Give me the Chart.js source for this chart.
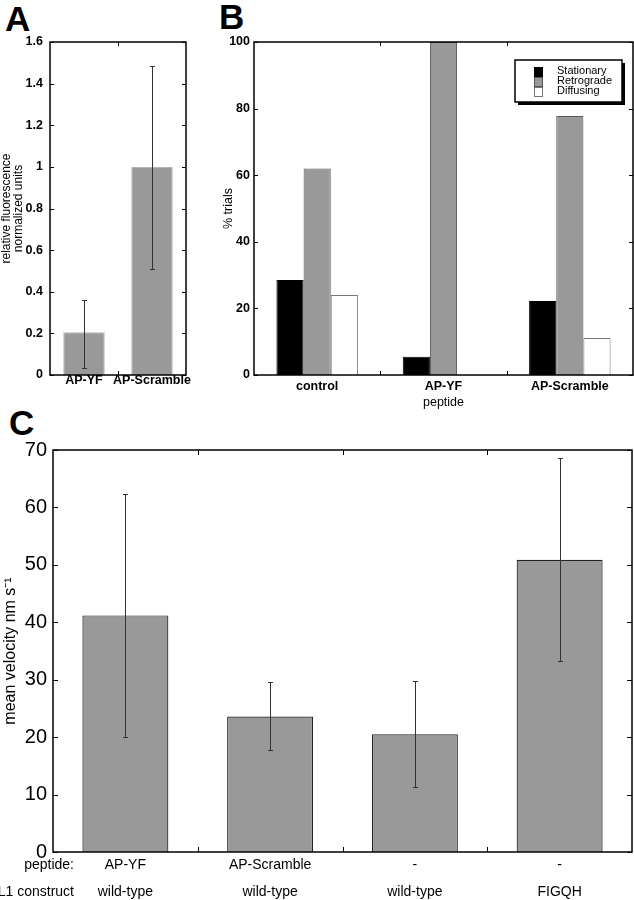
<!DOCTYPE html>
<html>
<head>
<meta charset="utf-8">
<script src="https://cdn.jsdelivr.net/npm/chart.js@4.4.1/dist/chart.umd.min.js"></script>
<style>
  body { margin: 0; background: #fff; width: 634px; height: 900px; position: relative; overflow: hidden; font-family: "Liberation Sans", Arial, sans-serif; }
  canvas { position: absolute; }
  .tag { position: absolute; font-weight: bold; font-size: 35px; line-height: 1; }
</style>
</head>
<body>
<div class="tag" style="left:5px;top:1px">A</div>
<div class="tag" style="left:219px;top:-1px">B</div>
<div class="tag" style="left:9px;top:405px">C</div>
<canvas id="chartA" width="200" height="400" style="left:0;top:0"></canvas>
<canvas id="chartB" width="434" height="410" style="left:200px;top:0"></canvas>
<canvas id="chartC" width="634" height="500" style="left:0;top:400px"></canvas>
<script>
// panel A
const groupsA = ["AP-YF", "AP-Scramble"]
const fluorA = [0.205, 1.0]
const fluorLoA = [0.035, 0.51]
const fluorHiA = [0.36, 1.485]
const yTicksA = [0, 0.2, 0.4, 0.6, 0.8, 1, 1.2, 1.4, 1.6]

// panel B
const groupsB = ["control", "AP-YF", "AP-Scramble"]
const stationaryB = [28.5, 5.5, 22.2]
const retrogradeB = [62, 100, 77.8]
const diffusingB = [24, 0, 11.1]
const yTicksB = [0, 20, 40, 60, 80, 100]

// panel C
const peptideC = ["AP-YF", "AP-Scramble", "-", "-"]
const constructC = ["wild-type", "wild-type", "wild-type", "FIGQH"]
const rowNamesC = ["peptide:", "L1 construct"]
const velocityC = [41.2, 23.6, 20.5, 50.9]
const velocityLoC = [20.1, 17.7, 11.3, 33.3]
const velocityHiC = [62.4, 29.6, 29.7, 68.6]
const yTicksC = [0, 10, 20, 30, 40, 50, 60, 70]

const FONT = "'Liberation Sans', Arial, sans-serif"
Chart.defaults.font.family = FONT
Chart.defaults.color = "#000"

// box around the plot with inward ticks
const framePlugin = {
  id: "frame",
  afterDatasetsDraw(chart, args, opts) {
    const { ctx, chartArea: a, scales } = chart
    const len = opts.tick || 4
    ctx.save()
    ctx.strokeStyle = "#000"
    ctx.lineWidth = opts.lineWidth || 1.5
    ctx.strokeRect(a.left, a.top, a.right - a.left, a.bottom - a.top)
    ctx.beginPath()
    scales.y.ticks.forEach(t => {
      const py = Math.round(scales.y.getPixelForValue(t.value)) + 0.5
      ctx.moveTo(a.left, py); ctx.lineTo(a.left + len, py)
      ctx.moveTo(a.right, py); ctx.lineTo(a.right - len, py)
    })
    for (let i = 1; i < scales.x.ticks.length; i++) {
      const px = Math.round((scales.x.getPixelForValue(i - 1) + scales.x.getPixelForValue(i)) / 2) + 0.5
      ctx.moveTo(px, a.bottom); ctx.lineTo(px, a.bottom - len)
      ctx.moveTo(px, a.top); ctx.lineTo(px, a.top + len)
    }
    ctx.lineWidth = 1
    ctx.stroke()
    ctx.restore()
  }
}

const errorBarPlugin = {
  id: "errorBars",
  afterDatasetsDraw(chart) {
    const { ctx } = chart
    const y = chart.scales.y
    chart.data.datasets.forEach((ds, di) => {
      if (!ds.errLo) return
      const meta = chart.getDatasetMeta(di)
      ctx.save()
      ctx.strokeStyle = "#333"
      ctx.lineWidth = 1
      meta.data.forEach((bar, i) => {
        const x = Math.round(bar.x) + 0.5
        const top = Math.round(y.getPixelForValue(ds.errHi[i])) + 0.5
        const bot = Math.round(y.getPixelForValue(ds.errLo[i])) + 0.5
        ctx.beginPath()
        ctx.moveTo(x, top); ctx.lineTo(x, bot)
        ctx.moveTo(x - 2.5, top); ctx.lineTo(x + 2.5, top)
        ctx.moveTo(x - 2.5, bot); ctx.lineTo(x + 2.5, bot)
        ctx.stroke()
      })
      ctx.restore()
    })
  }
}

const boxLegendPlugin = {
  id: "boxLegend",
  afterDraw(chart) {
    const { ctx, chartArea: a } = chart
    const bx = a.right - 118, by = a.top + 18, bw = 107, bh = 42
    ctx.save()
    ctx.fillStyle = "#000"
    ctx.fillRect(bx + 3, by + 3, bw, bh)
    ctx.fillStyle = "#fff"
    ctx.fillRect(bx, by, bw, bh)
    ctx.lineWidth = 1.5
    ctx.strokeStyle = "#000"
    ctx.strokeRect(bx, by, bw, bh)
    ctx.font = "11px " + FONT
    ctx.textBaseline = "middle"
    chart.data.datasets.forEach((ds, i) => {
      const sy = by + 7 + i * 10
      ctx.fillStyle = ds.backgroundColor
      ctx.fillRect(bx + 19, sy, 9, 10)
      ctx.strokeStyle = ds.borderColor
      ctx.lineWidth = 1
      ctx.strokeRect(bx + 19.5, sy + 0.5, 8, 9)
      ctx.fillStyle = "#000"
      ctx.fillText(ds.label, bx + 42, sy + 4)
    })
    ctx.restore()
  }
}

const rowLabelPlugin = {
  id: "rowLabels",
  afterDraw(chart, args, opts) {
    if (!opts.labels) return
    const { ctx, chartArea: a } = chart
    ctx.save()
    ctx.font = "14px " + FONT
    ctx.fillStyle = "#000"
    ctx.textAlign = "right"
    ctx.textBaseline = "middle"
    opts.labels.forEach((t, i) => ctx.fillText(t, a.left + 21, a.bottom + 13.5 + i * 27))
    ctx.restore()
  }
}

function fixedTicks(list) {
  return s => { s.ticks = list.map(v => ({ value: v })) }
}

const noGrid = { display: false, drawTicks: false }

// A
new Chart(document.getElementById("chartA"), {
  type: "bar",
  data: {
    labels: groupsA,
    datasets: [{
      data: fluorA,
      errLo: fluorLoA,
      errHi: fluorHiA,
      backgroundColor: "#999999",
      borderColor: "#b4b4b4",
      borderWidth: 1,
      categoryPercentage: 1,
      barPercentage: 0.61
    }]
  },
  options: {
    responsive: false,
    devicePixelRatio: 1,
    animation: false,
    layout: { padding: { top: 42, right: 14, left: 0, bottom: 0 } },
    plugins: { legend: { display: false }, tooltip: { enabled: false } },
    scales: {
      x: {
        grid: noGrid,
        border: { display: false },
        ticks: { font: { size: 12.5, weight: "bold", lineHeight: 1 }, padding: -1, maxRotation: 0, autoSkip: false },
        afterFit: s => { s.height = 25 }
      },
      y: {
        min: 0, max: 1.6,
        grid: noGrid,
        border: { display: false },
        afterBuildTicks: fixedTicks(yTicksA),
        ticks: { font: { size: 12.5, weight: "bold" }, padding: 7, callback: v => String(v) },
        title: {
          display: true,
          text: ["relative fluorescence", "normalized units"],
          font: { size: 12, lineHeight: 1 },
          padding: { top: 1, bottom: 0 }
        },
        afterFit: s => { s.width = 50 }
      }
    }
  },
  plugins: [errorBarPlugin, framePlugin]
})

// B
new Chart(document.getElementById("chartB"), {
  type: "bar",
  data: {
    labels: groupsB,
    datasets: [
      { label: "Stationary", data: stationaryB, backgroundColor: "#000000", borderColor: "#000000", borderWidth: 1 },
      { label: "Retrograde", data: retrogradeB, backgroundColor: "#999999", borderColor: "#555555", borderWidth: 1 },
      { label: "Diffusing", data: diffusingB, backgroundColor: "#ffffff", borderColor: "#777777", borderWidth: 1 }
    ]
  },
  options: {
    responsive: false,
    devicePixelRatio: 1,
    animation: false,
    datasets: { bar: { categoryPercentage: 0.645, barPercentage: 1 } },
    layout: { padding: { top: 42, right: 1, left: 0, bottom: 0 } },
    plugins: { legend: { display: false }, tooltip: { enabled: false } },
    scales: {
      x: {
        grid: noGrid,
        border: { display: false },
        ticks: { font: { size: 12.5, weight: "bold", lineHeight: 1 }, padding: 5, maxRotation: 0, autoSkip: false },
        title: { display: true, text: "peptide", font: { size: 12.5, lineHeight: 1.2 }, padding: { top: 0, bottom: 0 } },
        afterFit: s => { s.height = 35 }
      },
      y: {
        min: 0, max: 100,
        grid: noGrid,
        border: { display: false },
        afterBuildTicks: fixedTicks(yTicksB),
        ticks: { font: { size: 12.5, weight: "bold" }, padding: 4, callback: v => String(v) },
        title: { display: true, text: "% trials", font: { size: 12.5, lineHeight: 1.2 }, padding: { top: 21, bottom: 0 } },
        afterFit: s => { s.width = 54 }
      }
    }
  },
  plugins: [framePlugin, boxLegendPlugin]
})

// C
new Chart(document.getElementById("chartC"), {
  type: "bar",
  data: {
    labels: peptideC.map((p, i) => [p, constructC[i]]),
    datasets: [{
      data: velocityC,
      errLo: velocityLoC,
      errHi: velocityHiC,
      backgroundColor: "#999999",
      borderColor: "#222222",
      borderWidth: 1.2,
      categoryPercentage: 1,
      barPercentage: 0.594
    }]
  },
  options: {
    responsive: false,
    devicePixelRatio: 1,
    animation: false,
    layout: { padding: { top: 50, right: 2, left: 0, bottom: 0 } },
    plugins: {
      legend: { display: false },
      tooltip: { enabled: false },
      rowLabels: { labels: rowNamesC },
      frame: { tick: 5 }
    },
    scales: {
      x: {
        grid: noGrid,
        border: { display: false },
        ticks: { font: { size: 14, lineHeight: 27 / 14 }, padding: 0, maxRotation: 0, autoSkip: false },
        afterFit: s => { s.height = 48 }
      },
      y: {
        min: 0, max: 70,
        grid: noGrid,
        border: { display: false },
        afterBuildTicks: fixedTicks(yTicksC),
        ticks: { font: { size: 20 }, padding: 6, callback: v => String(v) },
        title: { display: true, text: "mean velocity nm s\u207B\u00B9", font: { size: 16, lineHeight: 1.2 }, padding: { top: 1, bottom: 0 } },
        afterFit: s => { s.width = 53 }
      }
    }
  },
  plugins: [errorBarPlugin, framePlugin, rowLabelPlugin]
})
</script>
</body>
</html>
